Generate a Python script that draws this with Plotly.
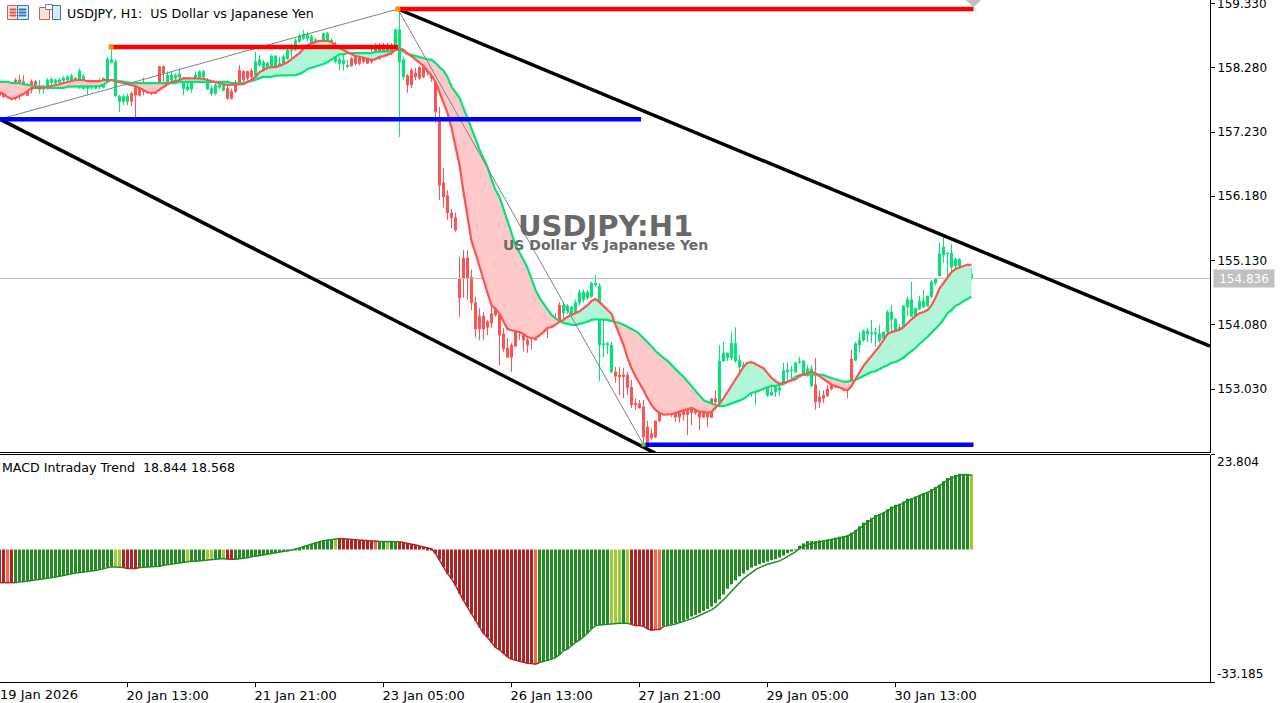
import plotly.graph_objects as go

# bar index 0 = 19 Jan 2026 05:00, one bar per hour of trading
body_top = [
    158.00,158.00,157.94,157.93,158.08,158.08,158.05,158.00,158.05,158.05,
    157.98,157.96,158.08,158.09,158.08,158.08,158.11,158.13,158.15,158.11,
    158.23,158.14,158.05,158.03,158.03,158.05,158.11,158.42,158.41,158.38,
    157.81,157.81,157.82,157.86,158.00,158.00,158.03,158.00,157.98,158.00,
    158.30,158.30,158.16,158.16,158.16,158.18,158.08,157.97,158.08,158.16,
    158.22,158.22,158.08,157.94,158.00,158.00,158.00,157.94,157.89,158.03,
    158.24,158.22,158.22,158.23,158.38,158.41,158.37,158.35,158.47,158.47,
    158.35,158.46,158.57,158.57,158.72,158.80,158.83,158.82,158.79,158.74,
    158.71,158.84,158.84,158.73,158.57,158.42,158.40,158.32,158.43,158.49,
    158.52,158.49,158.52,158.49,158.65,158.65,158.65,158.65,158.62,158.90,
    158.90,158.41,158.15,158.24,158.19,158.28,158.29,158.29,158.21,158.11,
    157.43,156.40,156.19,155.91,155.83,154.84,155.17,155.17,154.86,154.44,
    154.22,154.22,154.13,154.26,154.37,154.24,153.93,153.70,153.75,154.16,
    154.14,154.06,153.83,153.88,154.00,154.17,154.17,154.11,154.16,154.14,
    154.40,154.40,154.39,154.37,154.44,154.61,154.61,154.61,154.76,154.76,
    154.71,153.77,153.77,153.75,153.31,153.26,153.26,153.26,153.06,152.80,
    152.79,152.74,152.41,152.30,152.51,152.66,153.01,153.01,152.87,152.74,
    152.64,152.69,152.72,152.72,152.75,152.72,152.66,152.66,152.87,152.87,
    153.49,153.62,153.62,153.78,153.78,153.50,153.42,153.46,153.46,153.11,
    153.28,153.28,153.13,152.98,153.06,153.06,153.33,153.34,153.34,153.46,
    153.47,153.49,153.36,153.36,153.10,152.90,152.93,153.03,153.13,153.13,
    153.13,153.13,153.13,153.52,153.77,153.83,153.98,153.98,153.95,153.95,
    153.93,153.96,154.29,154.29,154.17,154.04,154.39,154.49,154.49,154.35,
    154.47,154.47,154.55,154.78,154.84,155.24,155.35,155.25,155.25,155.15,
    155.15,154.99,154.91,154.91,
]
body_bottom = [
    157.83,157.81,157.81,157.78,157.78,157.81,157.86,157.83,157.92,158.00,
    157.92,157.93,157.98,158.04,158.03,158.04,158.07,158.08,158.08,158.06,
    157.96,157.94,157.94,157.96,157.94,157.97,157.96,158.08,158.37,157.82,
    157.73,157.73,157.73,157.73,157.83,157.83,157.89,157.89,157.87,157.86,
    158.04,158.19,158.05,158.08,158.11,158.12,157.94,157.92,157.93,158.08,
    158.11,158.13,157.93,157.86,157.86,157.96,157.91,157.78,157.78,157.89,
    158.03,158.08,158.11,158.13,158.16,158.32,158.24,158.27,158.22,158.27,
    158.27,158.35,158.43,158.56,158.57,158.71,158.76,158.76,158.68,158.57,
    158.57,158.71,158.72,158.57,158.38,158.35,158.35,158.30,158.31,158.35,
    158.35,158.38,158.35,158.38,158.46,158.43,158.49,158.49,158.54,158.57,
    158.38,158.13,158.00,158.00,158.13,158.11,158.13,158.21,158.11,157.56,
    156.36,156.17,155.91,155.83,155.63,154.52,154.84,154.84,154.44,154.01,
    154.01,154.01,154.04,154.11,154.24,153.91,153.69,153.55,153.55,153.73,
    154.06,153.83,153.75,153.85,153.83,154.04,154.04,154.04,154.08,154.11,
    154.14,154.27,154.31,154.26,154.27,154.44,154.49,154.52,154.54,154.73,
    153.75,153.75,153.75,153.31,153.24,153.23,153.23,153.05,152.77,152.77,
    152.72,152.25,152.15,152.23,152.25,152.51,152.62,152.85,152.72,152.57,
    152.57,152.61,152.61,152.64,152.64,152.57,152.57,152.57,152.57,152.82,
    152.77,153.49,153.54,153.54,153.49,153.39,153.39,153.37,153.08,153.08,
    153.10,153.11,152.93,152.93,152.98,153.01,153.13,153.31,153.33,153.31,
    153.46,153.26,153.26,153.08,152.82,152.82,152.88,152.92,153.03,153.06,
    153.06,153.01,153.01,153.15,153.50,153.75,153.83,153.93,153.93,153.93,
    153.82,153.86,153.96,154.17,153.86,153.86,154.04,154.37,154.22,154.22,
    154.34,154.37,154.39,154.54,154.76,154.88,155.22,155.24,155.02,155.04,
    155.04,154.84,154.84,154.83,
]
wick_high = [
    158.05,158.05,158.03,158.00,158.11,158.16,158.16,158.03,158.09,158.08,
    158.08,158.00,158.11,158.12,158.10,158.11,158.14,158.16,158.18,158.13,
    158.27,158.18,158.08,158.05,158.08,158.11,158.12,158.46,158.57,158.41,
    157.84,157.84,157.86,157.89,158.03,158.03,158.12,158.05,158.04,158.05,
    158.31,158.31,158.22,158.22,158.19,158.27,158.11,158.05,158.12,158.22,
    158.24,158.24,158.11,158.00,158.03,158.03,158.03,158.00,157.94,158.08,
    158.32,158.24,158.23,158.27,158.54,158.49,158.41,158.38,158.49,158.49,
    158.46,158.49,158.60,158.68,158.76,158.84,158.90,158.87,158.82,158.76,
    158.73,158.84,158.87,158.76,158.71,158.46,158.49,158.41,158.46,158.52,
    158.54,158.53,158.54,158.60,158.68,158.68,158.69,158.69,158.68,158.92,
    159.25,158.46,158.18,158.28,158.28,158.31,158.36,158.37,158.31,158.15,
    157.64,156.64,156.28,155.97,155.91,155.19,155.30,155.30,154.98,154.54,
    154.35,154.29,154.16,154.40,154.42,154.35,154.03,153.86,153.78,154.21,
    154.35,154.19,154.03,154.03,154.13,154.21,154.24,154.24,154.21,154.27,
    154.45,154.45,154.42,154.39,154.49,154.66,154.66,154.65,154.78,154.89,
    154.76,154.19,153.80,153.80,153.39,153.39,153.37,153.31,153.18,152.88,
    152.85,152.85,152.51,152.39,152.51,152.66,153.05,153.10,152.90,152.77,
    152.74,152.72,152.77,152.90,152.79,152.77,152.69,152.80,152.87,153.01,
    153.75,153.80,153.62,153.96,154.04,153.59,153.47,153.47,153.47,153.29,
    153.39,153.34,153.18,153.10,153.10,153.10,153.46,153.47,153.41,153.47,
    153.55,153.49,153.42,153.42,153.54,153.01,153.01,153.10,153.21,153.16,
    153.16,153.16,153.13,153.67,153.80,153.96,154.00,154.03,154.16,154.03,
    154.08,153.96,154.32,154.40,154.19,154.09,154.39,154.54,154.78,154.35,
    154.55,154.65,154.55,154.81,154.84,155.42,155.51,155.25,155.40,155.17,
    155.17,155.01,155.01,155.01,
]
wick_low = [
    157.78,157.78,157.78,157.75,157.75,157.76,157.83,157.82,157.86,157.94,
    157.86,157.86,157.92,158.00,158.01,158.03,158.03,158.06,158.05,158.03,
    157.93,157.92,157.83,157.92,157.93,157.93,157.94,158.05,158.35,157.81,
    157.56,157.67,157.67,157.65,157.47,157.81,157.83,157.85,157.83,157.85,
    157.96,158.05,158.03,158.05,158.08,158.08,157.83,157.89,157.87,158.05,
    158.08,158.08,157.92,157.82,157.83,157.93,157.89,157.75,157.76,157.87,
    158.00,158.05,158.08,158.09,158.15,158.30,158.23,158.22,158.20,158.25,
    158.24,158.32,158.41,158.43,158.56,158.68,158.73,158.71,158.65,158.54,
    158.53,158.54,158.53,158.52,158.35,158.24,158.23,158.28,158.30,158.32,
    158.32,158.35,158.34,158.35,158.43,158.41,158.46,158.46,158.49,158.56,
    157.15,158.08,157.87,157.95,158.08,158.08,158.11,158.15,158.05,157.38,
    156.12,156.00,155.79,155.66,155.60,154.21,154.52,154.49,154.32,153.88,
    153.83,153.83,153.91,154.03,154.21,153.42,153.64,153.54,153.31,153.72,
    153.83,153.64,153.62,153.67,153.83,153.88,153.99,153.86,154.03,154.09,
    154.11,154.16,154.26,154.19,154.24,154.40,154.44,154.49,154.52,154.70,
    153.16,153.55,153.60,153.29,153.13,152.93,152.88,152.93,152.72,152.69,
    152.72,152.15,152.15,152.20,152.23,152.49,152.61,152.61,152.57,152.49,
    152.48,152.52,152.28,152.44,152.61,152.36,152.56,152.41,152.56,152.69,
    152.74,153.47,153.49,153.50,153.46,153.31,153.36,153.34,152.90,152.77,
    153.06,153.08,152.90,152.92,152.90,152.92,153.11,153.15,153.15,153.29,
    153.44,153.24,153.23,153.06,152.69,152.72,152.80,152.90,153.01,153.05,
    153.05,153.00,152.88,153.13,153.49,153.62,153.80,153.80,153.78,153.72,
    153.78,153.75,153.95,153.95,153.83,153.78,154.03,154.22,154.21,154.21,
    154.32,154.35,154.37,154.52,154.73,154.88,155.09,154.84,154.94,154.94,
    154.94,154.76,154.76,154.81,
]
# candle colour follows the trend, not open/close
candle_runs = [("R",10),("G",23),("R",9),("G",15),("R",7),("G",24),("R",11),
               ("G",3),("R",39),("G",13),("R",26),("G",24),("R",10),("G",30)]

ma_fast = [
    157.88,157.85,157.80,157.77,157.79,157.82,157.85,157.90,157.95,157.95,
    157.95,157.95,157.97,157.98,158.00,158.01,158.03,158.05,158.06,158.08,
    158.08,158.08,158.06,158.06,158.06,158.06,158.08,158.08,158.08,158.06,
    158.05,158.03,158.01,158.00,157.98,157.95,157.92,157.88,157.87,157.88,
    157.92,157.97,158.01,158.05,158.06,158.08,158.11,158.11,158.11,158.11,
    158.11,158.10,158.08,158.06,158.05,158.03,158.01,158.00,158.00,158.00,
    158.01,158.01,158.05,158.08,158.13,158.21,158.24,158.28,158.29,158.29,
    158.31,158.34,158.37,158.42,158.47,158.52,158.59,158.65,158.68,158.70,
    158.72,158.72,158.72,158.70,158.65,158.60,158.57,158.54,158.50,158.47,
    158.46,158.44,158.42,158.41,158.42,158.46,158.47,158.49,158.52,158.57,
    158.60,158.57,158.52,158.47,158.42,158.37,158.31,158.23,158.15,158.05,
    157.88,157.72,157.54,157.30,157.02,156.69,156.25,155.83,155.45,155.25,
    155.02,154.81,154.60,154.40,154.34,154.26,154.13,154.01,153.99,153.98,
    153.96,153.93,153.88,153.86,153.86,153.91,153.96,154.03,154.04,154.08,
    154.13,154.16,154.21,154.24,154.27,154.30,154.35,154.40,154.47,154.50,
    154.45,154.39,154.32,154.26,154.08,153.91,153.75,153.54,153.37,153.24,
    153.13,153.01,152.88,152.77,152.69,152.64,152.61,152.61,152.62,152.64,
    152.66,152.69,152.70,152.72,152.69,152.66,152.66,152.64,152.66,152.72,
    152.79,152.88,152.98,153.08,153.19,153.29,153.39,153.46,153.47,153.44,
    153.41,153.37,153.29,153.21,153.16,153.11,153.13,153.15,153.16,153.19,
    153.24,153.27,153.29,153.31,153.29,153.24,153.19,153.15,153.10,153.08,
    153.05,153.03,153.01,153.08,153.19,153.31,153.41,153.49,153.57,153.65,
    153.73,153.83,153.93,153.96,153.98,154.00,154.04,154.11,154.17,154.22,
    154.27,154.29,154.32,154.40,154.52,154.67,154.76,154.86,154.94,154.99,
    155.02,155.04,155.06,155.06,
]
ma_slow = [
    158.05,158.05,158.05,158.03,158.03,158.03,158.01,158.00,157.98,157.97,
    157.97,157.97,157.95,157.95,157.95,157.95,157.95,157.97,157.97,157.97,
    157.97,157.97,157.98,157.98,157.98,157.98,158.00,158.05,158.08,158.08,
    158.06,158.05,158.03,158.03,158.03,158.03,158.03,158.03,158.03,158.03,
    158.03,158.03,158.03,158.03,158.03,158.05,158.05,158.05,158.05,158.06,
    158.06,158.06,158.06,158.06,158.05,158.05,158.05,158.05,158.03,158.03,
    158.03,158.03,158.05,158.06,158.08,158.11,158.13,158.13,158.13,158.15,
    158.15,158.15,158.16,158.16,158.16,158.18,158.21,158.26,158.28,158.29,
    158.31,158.34,158.37,158.41,158.46,158.50,158.50,158.52,158.52,158.52,
    158.52,158.52,158.52,158.52,158.54,158.54,158.54,158.54,158.55,158.57,
    158.57,158.55,158.50,158.49,158.47,158.46,158.44,158.42,158.41,158.36,
    158.29,158.23,158.13,157.97,157.88,157.79,157.62,157.46,157.30,157.12,
    156.94,156.80,156.66,156.45,156.28,156.17,155.96,155.76,155.58,155.38,
    155.27,155.14,155.01,154.83,154.65,154.52,154.42,154.32,154.24,154.19,
    154.14,154.11,154.09,154.08,154.08,154.09,154.11,154.13,154.16,154.17,
    154.17,154.17,154.16,154.14,154.13,154.11,154.08,154.04,154.01,153.98,
    153.93,153.86,153.80,153.73,153.65,153.59,153.54,153.49,153.42,153.36,
    153.29,153.23,153.16,153.08,153.00,152.92,152.85,152.82,152.79,152.77,
    152.75,152.75,152.77,152.80,152.82,152.84,152.87,152.92,152.97,152.98,
    153.01,153.03,153.06,153.08,153.08,153.10,153.11,153.15,153.18,153.23,
    153.26,153.27,153.27,153.27,153.27,153.27,153.26,153.23,153.21,153.18,
    153.16,153.15,153.15,153.16,153.18,153.21,153.24,153.27,153.31,153.32,
    153.36,153.39,153.42,153.46,153.47,153.50,153.54,153.60,153.65,153.70,
    153.77,153.82,153.88,153.95,154.01,154.08,154.17,154.27,154.32,154.39,
    154.42,154.47,154.50,154.54,
]

macd_hist = [
    -8.30,-8.30,-8.30,-8.30,-8.30,-8.05,-8.05,-7.88,-7.71,-7.55,
    -7.55,-7.38,-7.21,-6.96,-6.87,-6.71,-6.46,-6.29,-6.03,-5.87,
    -5.78,-5.70,-5.53,-5.36,-5.28,-5.03,-4.77,-4.52,-4.35,-4.35,
    -4.35,-4.52,-4.77,-4.77,-4.77,-4.52,-4.44,-4.44,-4.35,-4.35,
    -4.18,-3.93,-3.76,-3.59,-3.51,-3.34,-3.18,-2.92,-2.92,-2.92,
    -2.84,-2.67,-2.59,-2.50,-2.34,-2.34,-2.25,-2.42,-2.42,-2.42,
    -2.34,-2.25,-2.08,-1.82,-1.66,-1.50,-1.41,-1.24,-1.08,-0.91,
    -0.66,-0.49,-0.40,-0.15,0.10,0.44,0.77,1.11,1.45,1.79,
    1.96,2.20,2.37,2.54,2.71,2.79,2.71,2.54,2.45,2.37,
    2.20,2.20,2.12,2.12,2.12,2.03,2.03,2.03,2.03,2.03,
    1.95,1.78,1.61,1.36,1.11,0.86,0.69,0.44,0.18,-0.98,
    -2.50,-4.35,-6.03,-7.29,-8.97,-11.08,-12.76,-14.44,-16.12,-17.80,
    -19.48,-20.99,-22.00,-23.26,-24.52,-25.11,-26.03,-26.87,-27.46,-27.71,
    -28.05,-28.30,-28.47,-28.55,-28.72,-28.30,-28.05,-27.88,-27.46,-27.04,
    -26.37,-25.36,-24.94,-24.10,-23.26,-22.67,-21.83,-20.99,-19.89,-19.06,
    -18.89,-18.81,-18.64,-18.47,-18.47,-18.47,-18.47,-18.47,-18.81,-19.06,
    -19.06,-19.23,-19.89,-20.23,-20.06,-20.06,-19.23,-18.98,-18.72,-18.47,
    -18.13,-17.80,-17.38,-16.79,-16.37,-15.95,-15.36,-14.86,-14.27,-13.43,
    -12.50,-11.24,-9.82,-8.72,-7.71,-6.71,-6.03,-5.19,-4.52,-4.10,
    -3.68,-3.34,-3.01,-2.67,-2.42,-2.00,-1.50,-0.91,-0.40,-0.10,
    0.94,1.53,2.12,2.12,2.12,2.29,2.29,2.54,2.71,2.96,
    3.21,3.29,3.55,4.22,4.89,5.82,6.74,7.41,7.92,8.59,
    8.92,9.26,10.10,10.77,11.19,11.45,12.03,12.71,12.87,13.29,
    13.71,14.13,14.30,15.14,15.65,16.23,17.08,17.92,18.33,18.76,
    19.00,19.00,19.00,18.84,
]
hist_runs = [("R",2),("T",1),("R",1),("G",25),("L",2),("R",4),("G",12),("L",1),
             ("G",4),("L",2),("G",2),("L",1),("R",2),("G",25),("L",1),("R",9),
             ("T",1),("G",2),("L",1),("G",2),("R",34),("T",1),("G",18),("L",3),
             ("G",1),("L",1),("R",6),("T",2),("G",77),("L",1)]
macd_signal = [
    -8.30,-8.30,-8.30,-8.30,-8.30,-8.05,-8.05,-7.88,-7.71,-7.55,
    -7.55,-7.38,-7.21,-6.96,-6.87,-6.71,-6.46,-6.29,-6.03,-5.87,
    -5.78,-5.70,-5.53,-5.36,-5.28,-5.03,-4.77,-4.52,-4.35,-4.35,
    -4.35,-4.52,-4.77,-4.77,-4.77,-4.52,-4.44,-4.44,-4.35,-4.35,
    -4.18,-3.93,-3.76,-3.59,-3.51,-3.34,-3.18,-2.92,-2.92,-2.92,
    -2.84,-2.67,-2.59,-2.50,-2.34,-2.34,-2.25,-2.42,-2.42,-2.42,
    -2.34,-2.25,-2.08,-1.82,-1.66,-1.50,-1.41,-1.24,-1.08,-0.91,
    -0.66,-0.49,-0.40,-0.15,0.10,0.44,0.77,1.11,1.45,1.79,
    1.96,2.20,2.37,2.54,2.71,2.79,2.71,2.54,2.45,2.37,
    2.20,2.20,2.12,2.12,2.12,2.03,2.03,2.03,2.03,2.03,
    1.95,1.78,1.61,1.36,1.11,0.86,0.69,0.44,0.18,-0.98,
    -2.50,-4.35,-6.03,-7.29,-8.97,-11.08,-12.76,-14.44,-16.12,-17.80,
    -19.48,-20.99,-22.00,-23.26,-24.52,-25.11,-26.03,-26.87,-27.46,-27.71,
    -28.05,-28.30,-28.47,-28.55,-28.72,-28.30,-28.05,-27.88,-27.46,-27.04,
    -26.37,-25.36,-24.94,-24.10,-23.26,-22.67,-21.83,-20.99,-19.89,-19.06,
    -18.89,-18.81,-18.64,-18.47,-18.47,-18.47,-18.47,-18.47,-18.81,-19.06,
    -19.06,-19.23,-19.89,-20.23,-20.06,-20.06,-19.31,-19.14,-18.89,-18.64,
    -18.30,-18.05,-17.80,-17.38,-16.96,-16.54,-16.12,-15.70,-15.11,-14.44,
    -13.59,-12.59,-11.50,-10.40,-9.23,-8.13,-7.29,-6.54,-5.78,-5.03,
    -4.52,-4.02,-3.68,-3.43,-3.18,-2.84,-2.34,-1.83,-1.16,-0.57,
    0.27,0.86,1.28,1.53,1.70,1.87,2.03,2.20,2.37,2.62,
    2.87,3.13,3.38,3.88,4.47,5.31,6.07,6.91,7.58,8.25,
    8.67,9.09,9.68,10.35,10.86,11.19,11.61,12.29,12.62,13.03,
    13.46,13.80,14.13,14.72,15.31,15.90,16.66,17.41,17.92,18.33,
    18.59,18.76,18.76,18.57,
]

price_ticks = [159.33, 158.28, 157.23, 156.18, 155.13, 154.08, 153.03]
macd_ticks = [23.804, -33.185]
time_tick_bars = [32, 64, 96, 128, 160, 192, 224]
time_tick_labels = ["20 Jan 13:00", "21 Jan 21:00", "23 Jan 05:00", "26 Jan 13:00",
                    "27 Jan 21:00", "29 Jan 05:00", "30 Jan 13:00"]
last_price = 154.836

# objects drawn on the chart: (bar, price) pairs
red_levels = [([27.75, 99.6], [158.62, 158.62]), ([99.6, 243.5], [159.24, 159.24])]
blue_levels = [([0.1, 160.4], [157.44, 157.44]), ([161.4, 243.5], [152.12, 152.12])]
black_lines = [([99.6, 302.6], [159.24, 153.73]), ([0.1, 164.0], [157.44, 151.98])]
zigzag_bars = [0.1, 99.6, 161.0]
zigzag_prices = [157.44, 159.24, 152.12]

W, H = 1287, 703
AXIS_X = 1210
x_range = [0.125, 302.625]
bars = list(range(len(body_top)))


def expand(runs):
    out = []
    for name, n in runs:
        out += [name] * n
    return out


candle_kind = expand(candle_runs)
hist_kind = expand(hist_runs)
hist_palette = {"G": "#228B22", "L": "#9ACD32", "R": "#B22222", "T": "#FF6347"}

fig = go.Figure()


def add_line(xs, ys, color, width, **kw):
    fig.add_trace(go.Scatter(x=xs, y=ys, mode="lines", line=dict(color=color, width=width),
                             hoverinfo="skip", showlegend=False, **kw))


add_line(x_range, [last_price, last_price], "#C0C0C0", 1)


# shaded band between the two averages, split where they cross
def add_band(xs, top, bottom, color):
    fig.add_trace(go.Scatter(x=xs + xs[::-1], y=top + bottom[::-1], mode="lines", fill="toself",
                             fillcolor=color, line=dict(width=0), hoverinfo="skip", showlegend=False))


cur_x, cur_f, cur_s = [0], [ma_fast[0]], [ma_slow[0]]
for i in range(1, len(bars)):
    d0 = ma_fast[i - 1] - ma_slow[i - 1]
    d1 = ma_fast[i] - ma_slow[i]
    if d0 * d1 < 0:
        t = d0 / (d0 - d1)
        xc = i - 1 + t
        yc = ma_fast[i - 1] + t * (ma_fast[i] - ma_fast[i - 1])
        add_band(cur_x + [xc], cur_f + [yc], cur_s + [yc], "#B2F5D8" if d0 > 0 else "#FFC9C9")
        cur_x, cur_f, cur_s = [xc], [yc], [yc]
    cur_x.append(i)
    cur_f.append(ma_fast[i])
    cur_s.append(ma_slow[i])
add_band(cur_x, cur_f, cur_s, "#B2F5D8")

# two candle traces so the colour can follow the trend
for kind, color in (("G", "#00E676"), ("R", "#FF5252")):
    idx = [i for i in bars if candle_kind[i] == kind]
    style = dict(line=dict(color=color, width=1), fillcolor=color)
    fig.add_trace(go.Candlestick(
        x=idx,
        open=[body_bottom[i] for i in idx],
        high=[wick_high[i] for i in idx],
        low=[wick_low[i] for i in idx],
        close=[body_top[i] for i in idx],
        increasing=style, decreasing=style, whiskerwidth=0,
        hoverinfo="skip", showlegend=False,
    ))

add_line(bars, ma_slow, "#00E676", 2.2)
add_line(bars, ma_fast, "#FF5252", 2.2)

add_line(zigzag_bars, zigzag_prices, "#808080", 1)
for xs, ys in black_lines:
    add_line(xs, ys, "#000000", 3.5)
for xs, ys in red_levels:
    add_line(xs, ys, "#FF0000", 4.5)
for xs, ys in blue_levels:
    add_line(xs, ys, "#0000FF", 4.5)

fig.add_trace(go.Scatter(x=[27.9, 99.6], y=[158.62, 159.24], mode="markers",
                         marker=dict(symbol="square", size=5, color="#FF8C00"),
                         hoverinfo="skip", showlegend=False))
fig.add_trace(go.Scatter(x=[161.0], y=[152.12], mode="markers",
                         marker=dict(symbol="square", size=4, color="#66CC33"),
                         hoverinfo="skip", showlegend=False))
fig.add_trace(go.Scatter(x=[243.5], y=[159.39], mode="markers",
                         marker=dict(symbol="diamond", size=12, color="#C0C0C0"),
                         hoverinfo="skip", showlegend=False))

# MACD panel
fig.add_trace(go.Bar(x=bars, y=macd_hist, width=0.75, yaxis="y2",
                     marker=dict(color=[hist_palette[k] for k in hist_kind], line=dict(width=0)),
                     hoverinfo="skip", showlegend=False))
for group, color in (("GL", "#228B22"), ("RT", "#B22222")):
    ys = [macd_signal[i] if hist_kind[i] in group or (i > 0 and hist_kind[i - 1] in group) else None
          for i in bars]
    add_line(bars, ys, color, 1.5, yaxis="y2")

shapes = [
    dict(type="line", xref="paper", yref="paper", x0=0, x1=AXIS_X / W,
         y0=1 - 452.5 / H, y1=1 - 452.5 / H, line=dict(color="black", width=1)),
    dict(type="line", xref="paper", yref="paper", x0=0, x1=AXIS_X / W,
         y0=1 - 454.5 / H, y1=1 - 454.5 / H, line=dict(color="black", width=1)),
]


def rect(x0, y0, x1, y1, fill, line=None):
    shapes.append(dict(type="rect", xref="paper", yref="paper", x0=x0 / W, x1=x1 / W,
                       y0=1 - y0 / H, y1=1 - y1 / H, fillcolor=fill,
                       line=dict(color=line or fill, width=1)))


# toolbar icons at the top left
rect(7.5, 5.5, 17.5, 19.5, "#FBE3E0", "#E2574C")
rect(17.5, 5.5, 28.5, 19.5, "#DCEBF7", "#2E75B6")
for yy in (9, 12, 15):
    rect(10, yy, 16, yy + 1, "#E2574C")
    rect(19, yy, 26, yy + 1, "#2E75B6")
rect(39.5, 7.5, 49.5, 19.5, "#FBE3E0", "#E2574C")
rect(45.5, 4.5, 52.5, 9.5, "#FFFFFF", "#808080")
rect(52.5, 5.5, 60.5, 19.5, "#DCEBF7", "#2E75B6")

FONT = "DejaVu Sans"


def label(text, x, y, anchor="left", **font):
    style = dict(family=FONT, size=12, color="black")
    style.update(font)
    return dict(text=text, x=x / W, y=1 - y / H, xref="paper", yref="paper",
                xanchor=anchor, yanchor="middle", showarrow=False, font=style)


annotations = [
    label("USDJPY, H1:  US Dollar vs Japanese Yen", 65, 14, size=12.6),
    label("MACD Intraday Trend  18.844 18.568", 0, 467, size=12.6),
    label("<b>USDJPY:H1</b>", 605, 226, "center", size=29, color="#696969"),
    label("<b>US Dollar vs Japanese Yen</b>", 605, 245, "center", size=14, color="#696969"),
    label("19 Jan 2026", -2, 694, size=13),
    label("159.330", 1215, 3.5),
    label("23.804", 1215, 462),
    label("-33.185", 1215, 674),
    dict(label("154.836", 1213, 279, color="white"), width=60, height=17,
         bgcolor="#C0C0C0", borderpad=0),
]

fig.update_layout(
    width=W, height=H, margin=dict(l=0, r=0, t=0, b=0),
    paper_bgcolor="white", plot_bgcolor="white", showlegend=False,
    barmode="overlay", boxgap=0.5, boxgroupgap=0, shapes=shapes, annotations=annotations,
    font=dict(family=FONT, size=12, color="black"),
    xaxis=dict(domain=[0, AXIS_X / W], range=x_range, anchor="y2", rangeslider=dict(visible=False),
               showgrid=False, zeroline=False, showline=True, linecolor="black", linewidth=1,
               ticks="outside", ticklen=4, tickcolor="black", tickmode="array",
               tickvals=time_tick_bars, ticktext=time_tick_labels, ticklabelposition="outside right",
               tickfont=dict(size=13), ticklabelshift=-2, ticklabelstandoff=1),
    yaxis=dict(domain=[1 - 452.5 / H, 1], range=[151.993, 159.387], anchor="x", side="right",
               showgrid=False, zeroline=False, showline=True, linecolor="black", linewidth=1,
               ticks="outside", ticklen=4, tickcolor="black", tickmode="array",
               tickvals=price_ticks, ticktext=["%.3f" % p for p in price_ticks]),
    yaxis2=dict(domain=[1 - 682 / H, 1 - 454.5 / H], range=[macd_ticks[1], macd_ticks[0]], anchor="x",
                side="right", showgrid=False, zeroline=False, showline=True, linecolor="black", linewidth=1,
                ticks="outside", ticklen=4, tickcolor="black", tickmode="array",
                tickvals=macd_ticks, showticklabels=False),
)

fig.write_html("out.html", config=dict(displayModeBar=False),
               post_script="document.body.style.margin='0';")
